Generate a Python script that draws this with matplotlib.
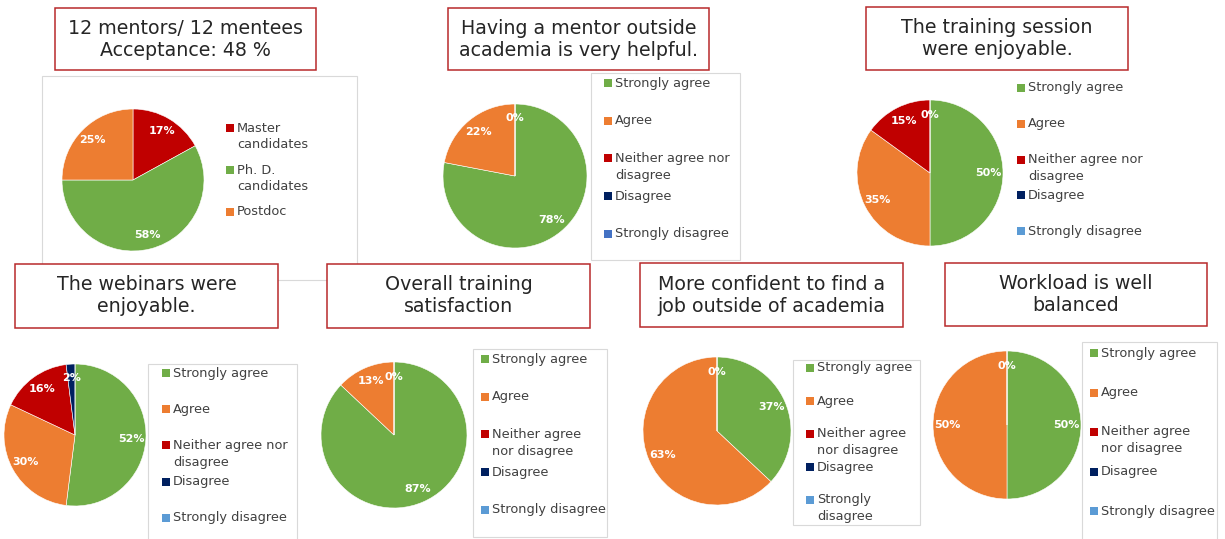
import numpy as np
import matplotlib
matplotlib.use("Agg")
import matplotlib.pyplot as plt
from matplotlib.patches import Rectangle

# Daten
mentee_labels = ["Master\ncandidates", "Ph. D.\ncandidates", "Postdoc"]
mentee_share = [17, 58, 25]

answers_a = ["Strongly agree", "Agree", "Neither agree nor\ndisagree", "Disagree", "Strongly disagree"]
answers_b = ["Strongly agree", "Agree", "Neither agree\nnor disagree", "Disagree", "Strongly disagree"]
answers_c = ["Strongly agree", "Agree", "Neither agree\nnor disagree", "Disagree", "Strongly\ndisagree"]

mentor_help = [78, 22, 0, 0, 0]
training_fun = [50, 35, 15, 0, 0]
webinar_fun = [52, 30, 16, 2, 0]
overall_sat = [87, 13, 0, 0, 0]
confidence = [37, 63, 0, 0, 0]
workload = [50, 50, 0, 0, 0]

titles = ["12 mentors/ 12 mentees\nAcceptance: 48 %",
          "Having a mentor outside\nacademia is very helpful.",
          "The training session\nwere enjoyable.",
          "The webinars were\nenjoyable.",
          "Overall training\nsatisfaction",
          "More confident to find a\njob outside of academia",
          "Workload is well\nbalanced"]

GREEN, ORANGE, RED, NAVY, LBLUE = "#70AD47", "#ED7D31", "#C00000", "#002060", "#5B9BD5"
answer_colors = [GREEN, ORANGE, RED, NAVY, LBLUE]
mentee_colors = [RED, GREEN, ORANGE]

W, H = 1225, 539
fig = plt.figure(figsize=(W / 100, H / 100), dpi=100)
fig.patch.set_facecolor("white")


def box(x0, y0, x1, y1, z=1, **kw):
    fig.patches.append(Rectangle((x0 / W, 1 - y1 / H), (x1 - x0) / W, (y1 - y0) / H,
                                 transform=fig.transFigure, zorder=z, **kw))


def title_box(x0, y0, x1, y1, text):
    box(x0, y0, x1, y1, z=3, facecolor="white", edgecolor="#B8292B", linewidth=1.1)
    fig.text((x0 + x1) / 2 / W, 1 - (y0 + y1) / 2 / H, text, ha="center", va="center",
             fontsize=13.7, color="#262626", linespacing=1.2, zorder=4)


def pie(cx, cy, r, values, colors, show_zero=True):
    ax = fig.add_axes([(cx - r) / W, 1 - (cy + r) / H, 2 * r / W, 2 * r / H])
    wedges, _ = ax.pie(values, colors=colors, startangle=90, counterclock=False,
                       wedgeprops=dict(linewidth=0.4, edgecolor="white"))
    ax.set_xlim(-1, 1)
    ax.set_ylim(-1, 1)
    ax.axis("off")
    zero_done = not show_zero
    for w, v in zip(wedges, values):
        if v == 0:
            if zero_done:
                continue
            zero_done = True
        ang = np.deg2rad((w.theta1 + w.theta2) / 2)
        ax.text(0.8 * np.cos(ang), 0.8 * np.sin(ang), f"{v}%", ha="center", va="center",
                color="white", fontsize=8, fontweight="bold")


def legend(sx, y0, step, labels, colors):
    for i, (lab, col) in enumerate(zip(labels, colors)):
        y = y0 + i * step
        box(sx, y - 4, sx + 8, y + 4, z=2, facecolor=col, edgecolor="none")
        fig.text((sx + 11) / W, 1 - (y - 6.5) / H, lab, ha="left", va="top",
                 fontsize=9.3, color="#404040", linespacing=1.38)


gray = dict(facecolor="none", edgecolor="#D9D9D9", linewidth=0.8)

# Panel 1
box(42, 76, 357, 280, **gray)
title_box(55, 8, 316, 70, titles[0])
pie(133, 180, 71, mentee_share, mentee_colors)
legend(226, 128, 42, mentee_labels, mentee_colors)

# Panel 2
box(591, 73, 740, 260, **gray)
title_box(448, 8, 709, 70, titles[1])
pie(515, 176, 72, mentor_help, [GREEN, ORANGE, RED, NAVY, "#4472C4"])
legend(604, 83, 37.7, answers_a, [GREEN, ORANGE, RED, NAVY, "#4472C4"])

# Panel 3
title_box(866, 7, 1128, 70, titles[2])
pie(930, 173, 73, training_fun, answer_colors)
legend(1017, 88, 35.8, answers_a, answer_colors)

# Panel 4
box(148, 364, 297, 545, **gray)
title_box(15, 264, 278, 328, titles[3])
pie(75, 435, 71, webinar_fun, answer_colors, show_zero=False)
legend(162, 373, 36.2, answers_a, answer_colors)

# Panel 5
box(473, 349, 607, 537, **gray)
title_box(327, 264, 590, 328, titles[4])
pie(394, 435, 73, overall_sat, answer_colors)
legend(481, 359, 37.7, answers_b, answer_colors)

# Panel 6
box(793, 360, 920, 525, **gray)
title_box(640, 263, 903, 327, titles[5])
pie(717, 431, 74, confidence, answer_colors)
legend(806, 368, 33, answers_c, answer_colors)

# Panel 7
box(1082, 342, 1217, 545, **gray)
title_box(945, 263, 1207, 326, titles[6])
pie(1007, 425, 74, workload, answer_colors)
legend(1090, 353, 39.5, answers_b, answer_colors)

fig.savefig("out.png", dpi=100, facecolor="white")
